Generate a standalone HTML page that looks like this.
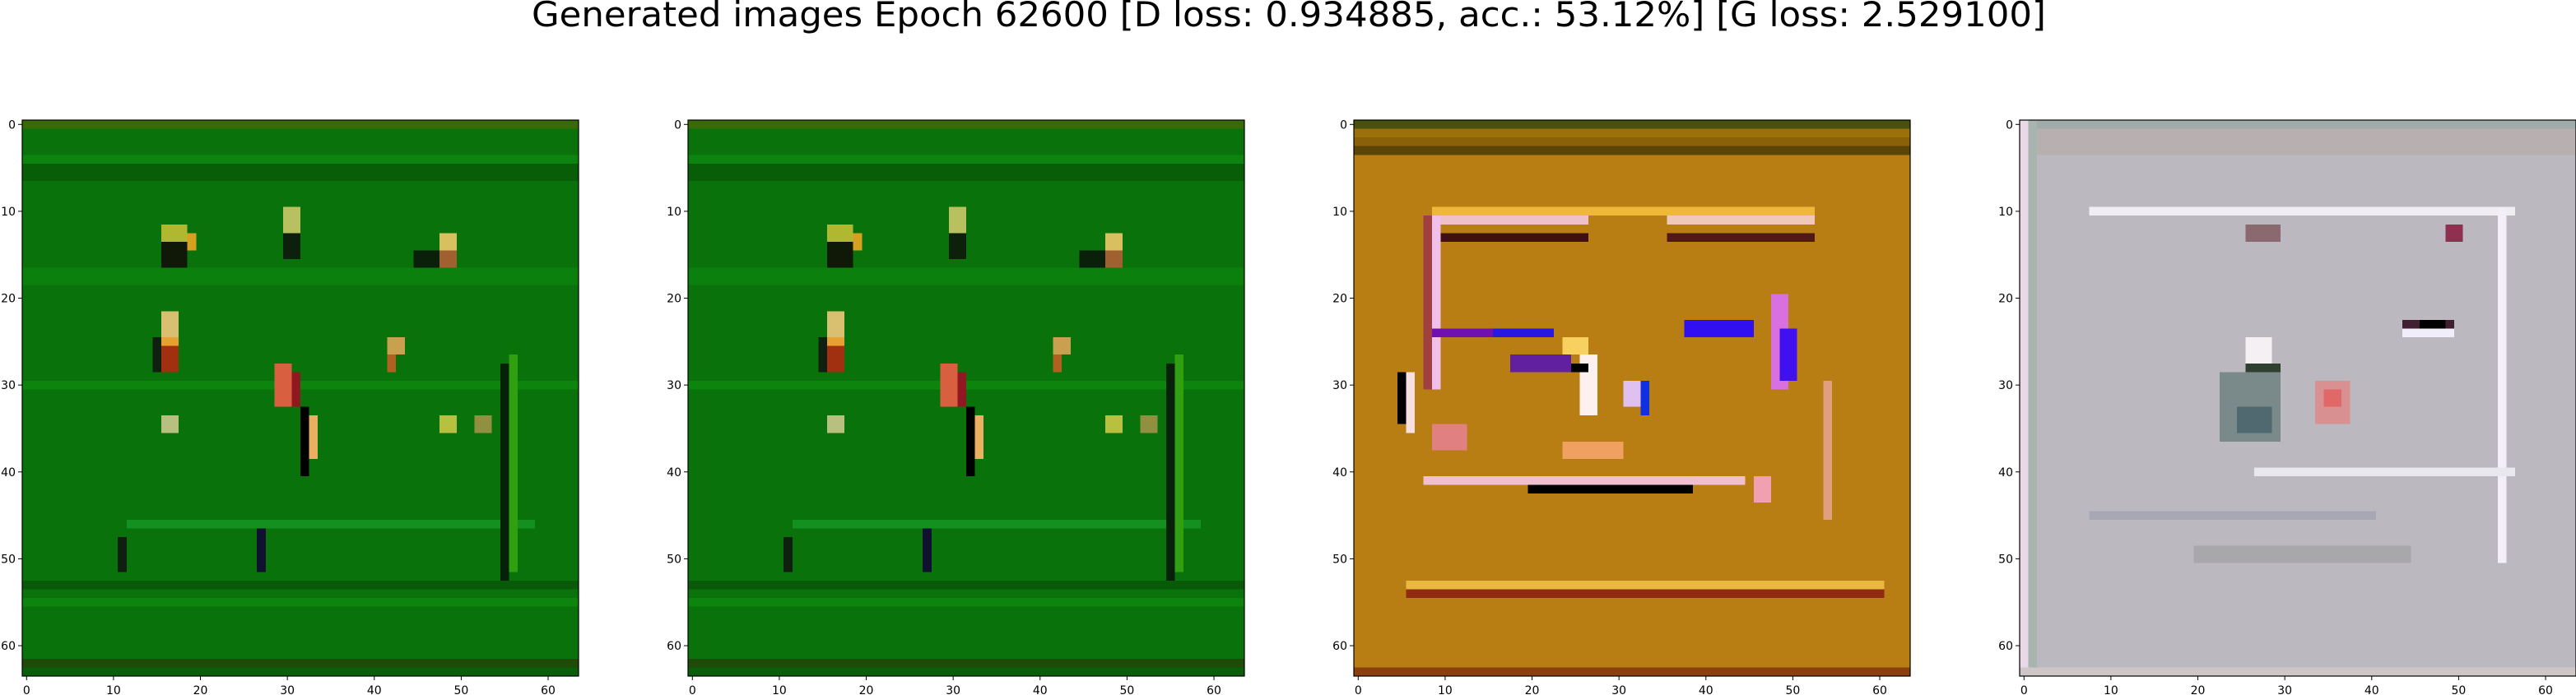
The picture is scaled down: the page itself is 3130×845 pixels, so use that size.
<!DOCTYPE html>
<html><head><meta charset="utf-8">
<style>
html,body{margin:0;padding:0;background:#fff;}
#fig{position:relative;width:3130px;height:845px;overflow:hidden;background:#fff;}
canvas{position:absolute;width:676px;height:676px;image-rendering:pixelated;image-rendering:crisp-edges;}
svg{position:absolute;left:0;top:0;}
text{font-family:"DejaVu Sans","Liberation Sans",sans-serif;fill:#000;}
</style></head>
<body>
<div id="fig">
<canvas id="c0" width="64" height="64"></canvas>
<canvas id="c1" width="64" height="64"></canvas>
<canvas id="c2" width="64" height="64"></canvas>
<canvas id="c3" width="64" height="64"></canvas>
<svg id="ov" width="3130" height="845">
<text x="646" y="32" font-size="42" textLength="1840" lengthAdjust="spacingAndGlyphs">Generated images Epoch 62600 [D loss: 0.934885, acc.: 53.12%] [G loss: 2.529100]</text>
</svg>
</div>
<script>
// axes layout
const axLefts = [27, 836, 1645, 2454];
const axTop = 146, axSize = 676, nPix = 64;
const tickValues = [0, 10, 20, 30, 40, 50, 60];

// base colors per image
const baseColors = ['#0a720a', '#0a720a', '#b87e14', '#bcb8c0'];

// features [rowStart,rowEnd,colStart,colEnd,color] per image
const greenFeatures = [
  [0,0,0,63,'#3a6a08'],[5,6,0,63,'#075e07'],[53,53,0,63,'#085a08'],
  [62,62,0,63,'#1f4a08'],[63,63,0,63,'#0a5e0a'],[46,46,12,58,'#139020'],
  [4,4,0,63,'#0d8410'],[17,18,0,63,'#0b800d'],[30,30,0,63,'#0c840e'],[55,55,0,63,'#0c840e'],
  [12,13,16,18,'#b0b830'],[14,16,16,18,'#101808'],[13,14,19,19,'#d8a020'],
  [10,12,30,31,'#b8c060'],[13,15,30,31,'#0c200c'],
  [13,14,48,49,'#d8c060'],[15,16,48,49,'#a06030'],[15,16,45,47,'#0a200a'],
  [22,24,16,17,'#d8c070'],[25,25,16,17,'#e8a030'],[26,28,16,17,'#a03010'],[25,28,15,15,'#102010'],
  [25,26,42,43,'#c8a050'],[27,28,42,42,'#b06020'],
  [28,32,29,30,'#d86040'],[29,32,31,31,'#901820'],
  [34,38,33,33,'#e8b060'],[33,40,32,32,'#000000'],
  [34,35,16,17,'#b8c080'],[34,35,48,49,'#b8c040'],[34,35,52,53,'#909040'],
  [28,52,55,55,'#06200a'],[27,51,56,56,'#30a010'],[47,51,27,27,'#101030'],
  [48,51,11,11,'#102010']
];
const goldFeatures = [
  [0,0,0,63,'#4a5010'],[1,1,0,63,'#9a7008'],[2,2,0,63,'#8a6008'],[3,3,0,63,'#5a4408'],
  [10,10,9,52,'#f0b838'],[11,11,9,26,'#f0c0c8'],[11,11,36,52,'#f0c8b8'],
  [13,13,9,26,'#401010'],[13,13,36,52,'#501818'],
  [11,30,9,9,'#f0c0e8'],[11,30,8,8,'#a04040'],
  [24,24,9,22,'#7010b0'],[24,24,16,22,'#2818e0'],[23,24,38,45,'#3010f0'],
  [20,30,48,49,'#d870e0'],[24,29,49,50,'#4010f0'],
  [25,26,24,26,'#f8d060'],[27,33,26,27,'#fff0f0'],[30,32,31,32,'#e0c0f0'],[30,33,33,33,'#1030e0'],
  [27,28,18,24,'#6020a0'],[28,28,25,26,'#000000'],
  [29,35,6,6,'#f8e0e0'],[29,34,5,5,'#000000'],
  [35,37,9,12,'#e08080'],[37,38,24,30,'#f0a060'],
  [41,41,8,44,'#f0c0d0'],[42,42,20,38,'#000000'],[41,43,46,47,'#f0a0b0'],
  [30,45,54,54,'#e0a080'],
  [53,53,6,60,'#e8b840'],[54,54,6,60,'#902a10'],
  [63,63,0,63,'#8a4010']
];
const greyFeatures = [
  [0,0,0,63,'#a0acaa'],[1,3,0,63,'#b8b0b0'],
  [10,10,8,56,'#f0eef2'],[10,50,55,55,'#f4eef8'],[40,40,27,56,'#e8e8ee'],
  [12,13,26,29,'#8a6a70'],[12,13,49,50,'#903050'],
  [23,23,44,49,'#402030'],[23,23,46,48,'#000000'],[24,24,44,49,'#f0eef8'],
  [25,27,26,28,'#f4f0f4'],[28,28,26,29,'#304030'],
  [29,36,23,29,'#7a8a8a'],[33,35,25,28,'#506870'],
  [30,34,34,37,'#d89090'],[31,32,35,36,'#e06868'],
  [45,45,8,40,'#a8a8b4'],[49,50,20,44,'#a8a8ac'],
  [0,63,0,0,'#e8d8e8'],[0,63,1,1,'#a8b4b0'],[63,63,0,63,'#cfc6c8']
];
const imageFeatures = [greenFeatures, greenFeatures, goldFeatures, greyFeatures];

const ov = document.getElementById('ov');
const NS = 'http://www.w3.org/2000/svg';
function px(v){ return (v + 0.5) * axSize / nPix; }

for (let i = 0; i < 4; i++) {
  const cv = document.getElementById('c' + i);
  cv.style.left = axLefts[i] + 'px';
  cv.style.top = axTop + 'px';
  const ctx = cv.getContext('2d');
  ctx.fillStyle = baseColors[i];
  ctx.fillRect(0, 0, 64, 64);
  imageFeatures[i].forEach(f => {
    ctx.fillStyle = f[4];
    ctx.fillRect(f[2], f[0], f[3] - f[2] + 1, f[1] - f[0] + 1);
  });

  const L = axLefts[i];
  const frame = document.createElementNS(NS, 'rect');
  frame.setAttribute('x', L); frame.setAttribute('y', axTop);
  frame.setAttribute('width', axSize); frame.setAttribute('height', axSize);
  frame.setAttribute('fill', 'none'); frame.setAttribute('stroke', '#000'); frame.setAttribute('stroke-width', '1.2');
  
  
  ov.appendChild(frame);

  tickValues.forEach(v => {
    const x = L + px(v);
    const tx = document.createElementNS(NS, 'line');
    tx.setAttribute('x1', x); tx.setAttribute('x2', x);
    tx.setAttribute('y1', axTop + axSize); tx.setAttribute('y2', axTop + axSize + 5);
    tx.setAttribute('stroke', '#000');
    
    
    ov.appendChild(tx);
    const xl = document.createElementNS(NS, 'text');
    xl.setAttribute('x', x); xl.setAttribute('y', axTop + axSize + 22);
    xl.setAttribute('font-size', '14'); xl.setAttribute('text-anchor', 'middle');
    xl.textContent = v;
    
    
    ov.appendChild(xl);

    const y = axTop + px(v);
    const ty = document.createElementNS(NS, 'line');
    ty.setAttribute('x1', L - 5); ty.setAttribute('x2', L);
    ty.setAttribute('y1', y); ty.setAttribute('y2', y);
    ty.setAttribute('stroke', '#000');
    
    
    ov.appendChild(ty);
    const yl = document.createElementNS(NS, 'text');
    yl.setAttribute('x', L - 8); yl.setAttribute('y', y + 5);
    yl.setAttribute('font-size', '14'); yl.setAttribute('text-anchor', 'end');
    yl.textContent = v;
    
    
    ov.appendChild(yl);
  });
}
</script>
</body></html>
